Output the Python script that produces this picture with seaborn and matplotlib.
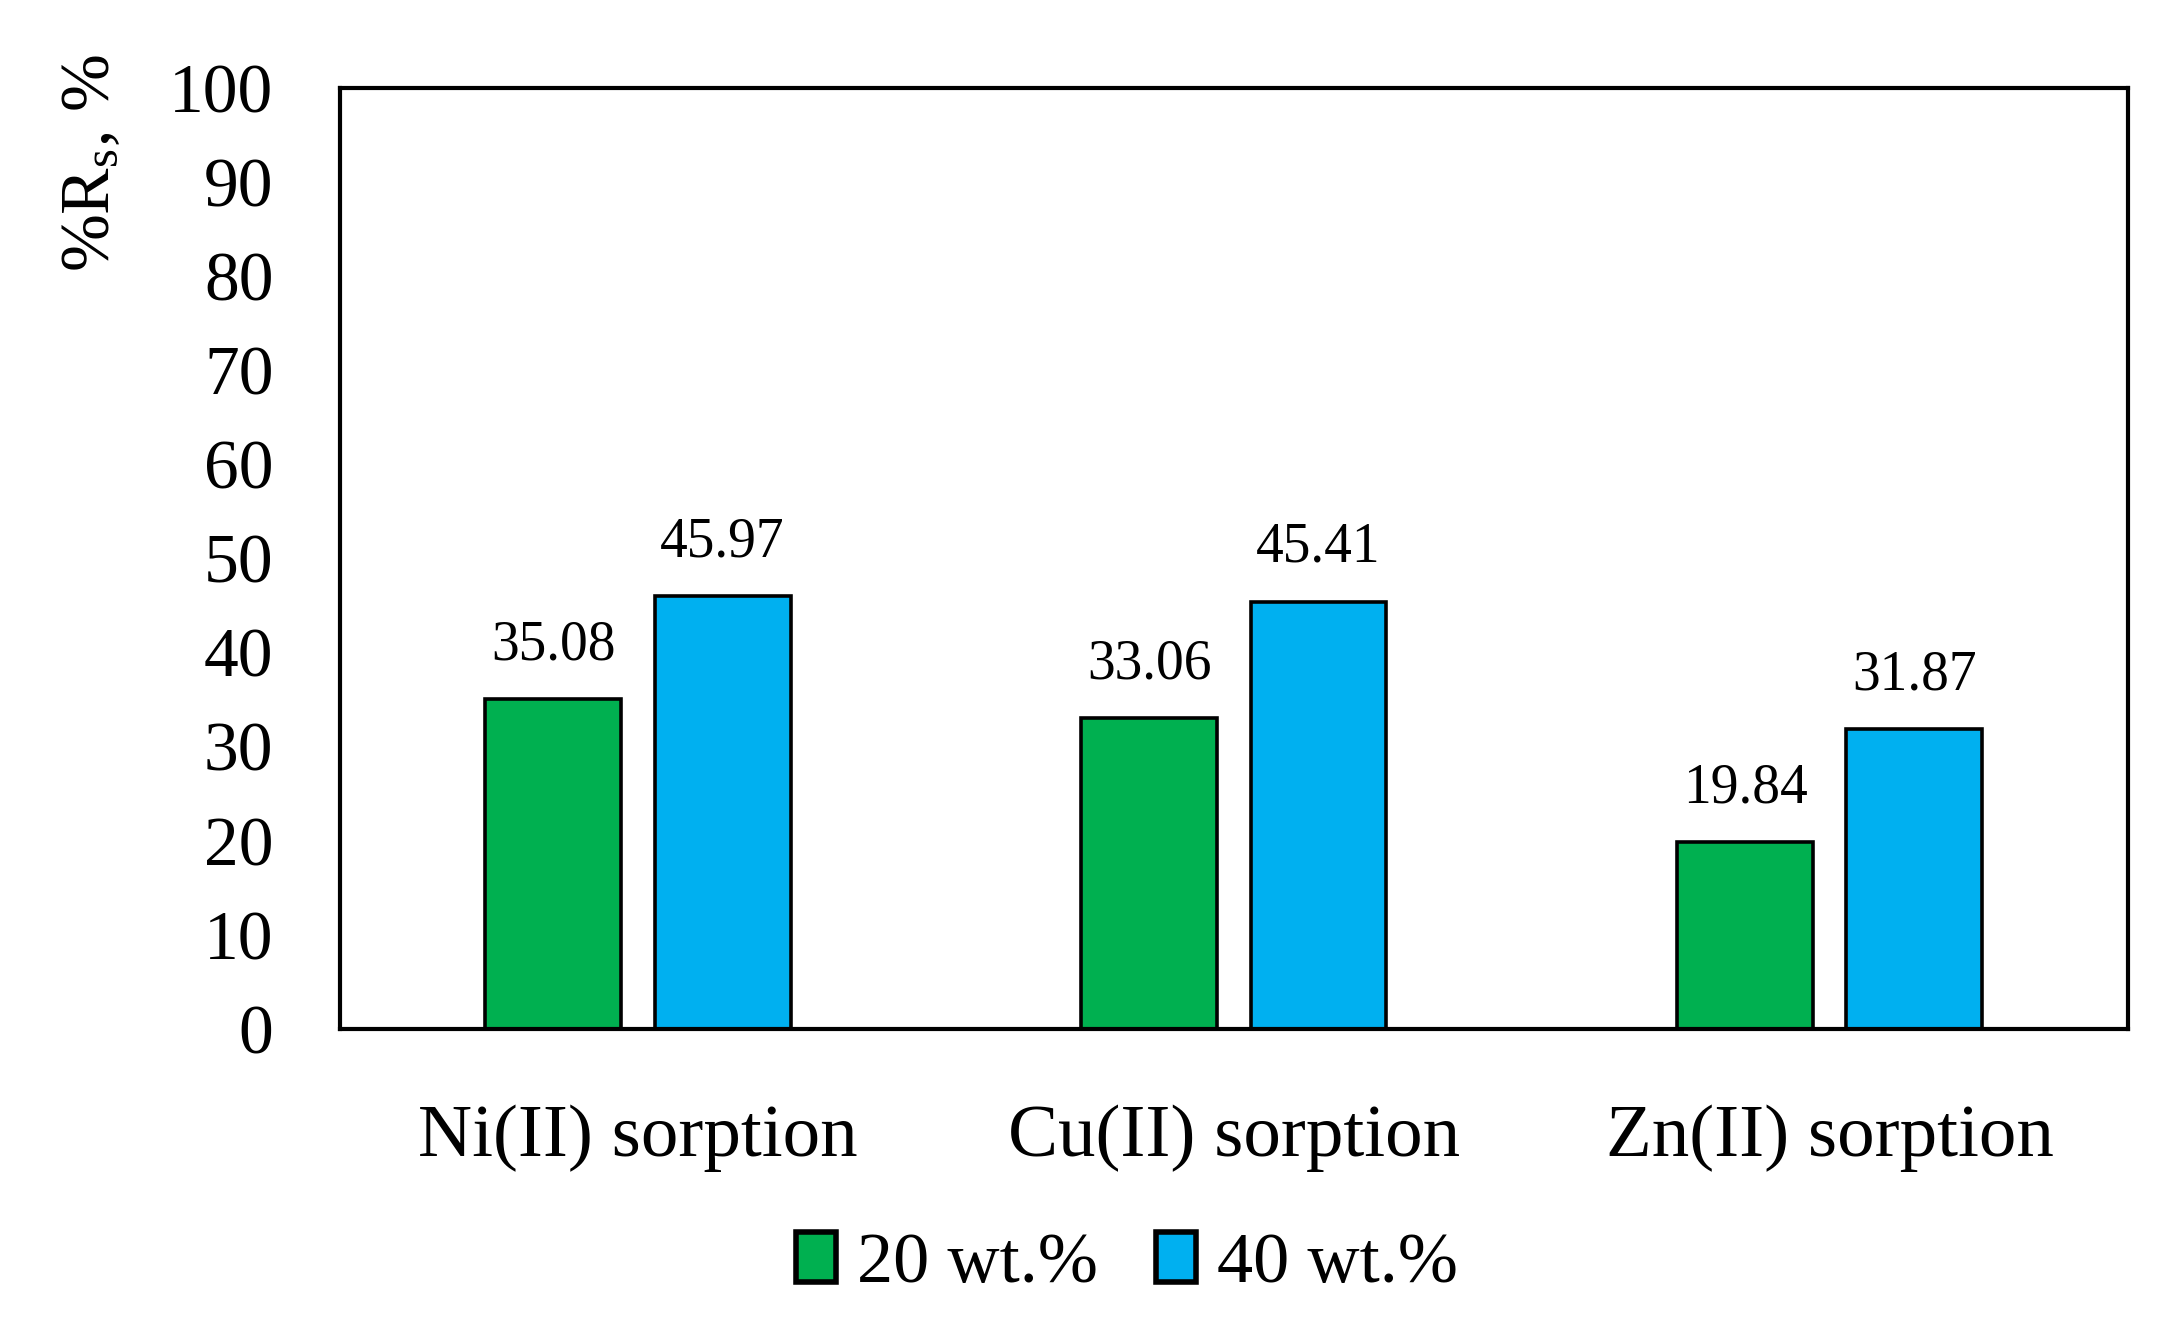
import matplotlib
matplotlib.use("Agg")
import matplotlib.pyplot as plt
import seaborn as sns
import pandas as pd

categories = ["Ni(II) sorption", "Cu(II) sorption", "Zn(II) sorption"]
series_names = ["20 wt.%", "40 wt.%"]
values_20 = [35.08, 33.06, 19.84]
values_40 = [45.97, 45.41, 31.87]
y_ticks = [0, 10, 20, 30, 40, 50, 60, 70, 80, 90, 100]
colors = ["#00B050", "#00B0F0"]

df = pd.DataFrame({
    "category": categories * 2,
    "series": [series_names[0]] * 3 + [series_names[1]] * 3,
    "value": values_20 + values_40,
})

sns.set_theme(style="white")
plt.rcParams["font.family"] = ["Liberation Serif", "DejaVu Serif"]
plt.rcParams["mathtext.fontset"] = "custom"
plt.rcParams["mathtext.rm"] = "Liberation Serif"
plt.rcParams["mathtext.it"] = "Liberation Serif:italic"
plt.rcParams["text.color"] = "black"
plt.rcParams["axes.labelcolor"] = "black"
plt.rcParams["xtick.color"] = "black"
plt.rcParams["ytick.color"] = "black"

fig = plt.figure(figsize=(10.9, 6.62), dpi=200)
ax = fig.add_axes([0.156, 0.2228, 0.820, 0.7107])

sns.barplot(data=df, x="category", y="value", hue="series", palette=colors,
            saturation=1, width=0.568, gap=0.197, edgecolor="black",
            linewidth=1.3, ax=ax, legend=True)

for cont in ax.containers:
    ax.bar_label(cont, labels=[f"{v:.2f}" for v in cont.datavalues],
                 padding=10, fontsize=20, color="black")

ax.set_ylim(0, 100)
ax.set_xlim(-0.5, 2.5)
ax.set_yticks(y_ticks)
ax.set_yticklabels([str(t) for t in y_ticks])
ax.tick_params(axis="y", length=0, pad=24, labelsize=25)
ax.tick_params(axis="x", length=0, pad=27, labelsize=27)
ax.set_xlabel("")
ax.set_ylabel(r"%R$_{\mathregular{s}}$, %", fontsize=25)
ax.yaxis.set_label_coords(-0.121, 0.92)
for s in ax.spines.values():
    s.set_visible(True)
    s.set_color("black")
    s.set_linewidth(1.5)

handles, labels = ax.get_legend_handles_labels()
ax.legend_.remove()
for h in handles:
    h.set_linewidth(2.0)
fig.legend(handles, labels, loc="center", bbox_to_anchor=(0.517, 0.045),
           ncol=2, frameon=False, fontsize=26, handlelength=0.55,
           handleheight=0.7, handletextpad=0.3, columnspacing=0.8)

fig.savefig("out.png", dpi=200)
